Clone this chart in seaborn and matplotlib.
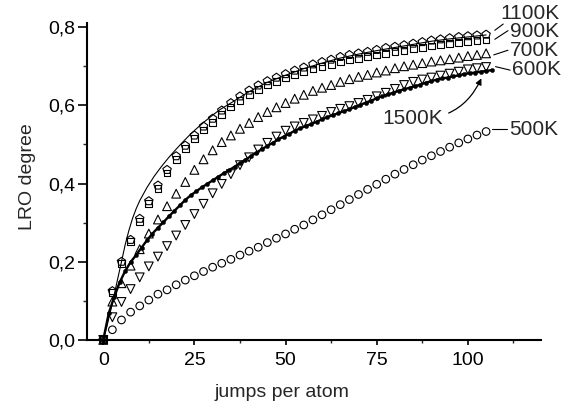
import numpy as np
import pandas as pd
import matplotlib
matplotlib.use("Agg")
import matplotlib.pyplot as plt
import seaborn as sns

# ---- data ----
x_sym = [i * 2.5 for i in range(43)]  # 0 ... 105

y_1100K = [0, 0.125, 0.20, 0.256, 0.31, 0.355, 0.395, 0.435, 0.47, 0.497, 0.523,
           0.546, 0.566, 0.587, 0.606, 0.623, 0.638, 0.651, 0.662, 0.671, 0.68,
           0.689, 0.697, 0.705, 0.711, 0.717, 0.724, 0.729, 0.733, 0.737, 0.742,
           0.747, 0.75, 0.754, 0.758, 0.762, 0.766, 0.769, 0.772, 0.775, 0.777,
           0.779, 0.781]
y_900K = [0, 0.122, 0.196, 0.251, 0.303, 0.348, 0.388, 0.427, 0.462, 0.489, 0.515,
          0.537, 0.557, 0.577, 0.596, 0.613, 0.628, 0.641, 0.652, 0.661, 0.67,
          0.679, 0.686, 0.693, 0.699, 0.705, 0.711, 0.716, 0.72, 0.724, 0.729,
          0.733, 0.737, 0.741, 0.745, 0.748, 0.752, 0.755, 0.758, 0.761, 0.763,
          0.765, 0.767]
y_700K = [0, 0.098, 0.145, 0.19, 0.232, 0.272, 0.308, 0.342, 0.374, 0.404, 0.435,
          0.462, 0.485, 0.506, 0.523, 0.54, 0.555, 0.57, 0.583, 0.595, 0.606,
          0.617, 0.627, 0.637, 0.645, 0.652, 0.66, 0.667, 0.673, 0.678, 0.684,
          0.689, 0.695, 0.7, 0.704, 0.708, 0.712, 0.715, 0.718, 0.722, 0.726,
          0.729, 0.733]
y_600K = [0, 0.058, 0.097, 0.13, 0.16, 0.188, 0.213, 0.24, 0.267, 0.294, 0.322,
          0.348, 0.375, 0.399, 0.424, 0.447, 0.467, 0.487, 0.504, 0.52, 0.535,
          0.546, 0.555, 0.564, 0.573, 0.583, 0.591, 0.598, 0.606, 0.614, 0.623,
          0.632, 0.642, 0.652, 0.66, 0.666, 0.671, 0.676, 0.681, 0.686, 0.692,
          0.695, 0.698]
y_500K = [0, 0.026, 0.051, 0.071, 0.087, 0.102, 0.117, 0.128, 0.141, 0.153, 0.164,
          0.175, 0.186, 0.196, 0.206, 0.217, 0.227, 0.237, 0.249, 0.26, 0.271,
          0.283, 0.294, 0.307, 0.32, 0.333, 0.346, 0.359, 0.372, 0.385, 0.398,
          0.411, 0.424, 0.436, 0.448, 0.46, 0.471, 0.482, 0.493, 0.504, 0.514,
          0.524, 0.533]

x_1500K = [i * 1.5 for i in range(72)]  # 0 ... 106.5
y_1500K = [0, 0.068, 0.11, 0.147, 0.176, 0.199, 0.217, 0.236, 0.255, 0.272,
           0.287, 0.301, 0.316, 0.33, 0.344, 0.358, 0.37, 0.38, 0.39, 0.399,
           0.408, 0.417, 0.426, 0.434, 0.443, 0.452, 0.461, 0.47, 0.479, 0.488,
           0.496, 0.504, 0.513, 0.52, 0.527, 0.535, 0.541, 0.547, 0.552, 0.558,
           0.564, 0.57, 0.575, 0.58, 0.585, 0.59, 0.596, 0.601, 0.607, 0.612,
           0.618, 0.623, 0.628, 0.632, 0.637, 0.641, 0.645, 0.649, 0.653, 0.658,
           0.662, 0.666, 0.669, 0.671, 0.674, 0.677, 0.68, 0.682, 0.684, 0.686,
           0.688, 0.69]

x_curve = [0, 1, 2, 3, 4, 5, 6, 7, 8, 9, 10, 12, 14, 16, 18, 20, 22, 24, 26, 28,
           30, 32, 35, 40, 45, 50, 55, 60, 65, 70, 75, 80, 85, 90, 95, 100, 105]
y_curve = [0, 0.035, 0.074, 0.115, 0.158, 0.2, 0.243, 0.279, 0.31, 0.335, 0.356,
           0.39, 0.419, 0.444, 0.467, 0.488, 0.508, 0.527, 0.544, 0.56, 0.575,
           0.589, 0.606, 0.635, 0.659, 0.677, 0.694, 0.708, 0.721, 0.731, 0.74,
           0.748, 0.756, 0.764, 0.77, 0.775, 0.78]

x_ticks = [0, 25, 50, 75, 100]
x_tick_labels = ["0", "25", "50", "75", "100"]
y_ticks = [0.0, 0.2, 0.4, 0.6, 0.8]
y_tick_labels = ["0,0", "0,2", "0,4", "0,6", "0,8"]

# ---- style ----
sns.set_style("ticks")
plt.rcParams['font.family'] = ['Liberation Sans', 'DejaVu Sans']

fig = plt.figure(figsize=(5.79, 4.12), dpi=100)
ax = fig.add_axes([0.150, 0.175, 0.784, 0.770])

sym_df = pd.DataFrame({"x": x_sym, "1100K": y_1100K, "900K": y_900K,
                       "700K": y_700K, "600K": y_600K, "500K": y_500K})

sns.lineplot(x=x_curve, y=y_curve, ax=ax, color="black", lw=0.8)

styles = [("500K", "o", 30), ("600K", "v", 40), ("700K", "^", 40),
          ("900K", "s", 24), ("1100K", "p", 40)]
for name, mk, s in styles:
    sns.scatterplot(data=sym_df, x="x", y=name, ax=ax, marker=mk, s=s,
                    facecolor="none", edgecolor="black", linewidth=0.8,
                    clip_on=False, zorder=3)

sns.lineplot(x=x_1500K, y=y_1500K, ax=ax, color="black", lw=1.7, zorder=4)
sns.scatterplot(x=x_1500K, y=y_1500K, ax=ax, marker="o", s=9, color="black",
                edgecolor="black", linewidth=0.3, zorder=4, clip_on=False)

# ---- axes ----
ax.set_xlim(-4.5, 120)
ax.set_ylim(0, 0.8115)
ax.set_xticks(x_ticks)
ax.set_xticklabels(x_tick_labels)
ax.set_yticks(y_ticks)
ax.set_yticklabels(y_tick_labels)
ax.set_xticks([12.5, 37.5, 62.5, 87.5, 112.5], minor=True)
ax.set_yticks([0.1, 0.3, 0.5, 0.7], minor=True)
ax.tick_params(which="major", direction="out", width=1.2,
               labelsize=14, colors="black")
ax.tick_params(axis="y", which="major", length=6.5, pad=2)
ax.tick_params(axis="y", which="minor", length=3, width=1.0)
ax.tick_params(axis="x", which="major", length=3.5, pad=5)
ax.tick_params(axis="x", which="minor", length=2.5, width=1.0)
for side in ["top", "right"]:
    ax.spines[side].set_visible(False)
for side in ["left", "bottom"]:
    ax.spines[side].set_linewidth(1.5)
    ax.spines[side].set_color("black")
ax.set_xlabel("jumps per atom", fontsize=14)
ax.set_ylabel("LRO degree", fontsize=14)
ax.xaxis.set_label_coords(0.43, -0.138)
ax.yaxis.set_label_coords(-0.112, 0.514)

# ---- series labels ----
fs = 15
ax.text(108.8, 0.835, "1100K", fontsize=fs, ha="left", va="center")
ax.plot([107.4, 109.7], [0.792, 0.808], color="black", lw=0.8, clip_on=False)
ax.text(111.5, 0.789, "900K", fontsize=fs, ha="left", va="center")
ax.plot([107.4, 111.0], [0.769, 0.791], color="black", lw=0.8, clip_on=False)
ax.text(111.5, 0.741, "700K", fontsize=fs, ha="left", va="center")
ax.plot([107.1, 111.0], [0.729, 0.741], color="black", lw=0.8, clip_on=False)
ax.text(112.0, 0.692, "600K", fontsize=fs, ha="left", va="center")
ax.plot([107.6, 111.6], [0.699, 0.690], color="black", lw=0.8, clip_on=False)
ax.text(111.2, 0.539, "500K", fontsize=fs, ha="left", va="center")
ax.plot([106.5, 110.8], [0.539, 0.539], color="black", lw=0.8, clip_on=False)
ax.annotate("1500K", xy=(103.7, 0.669), xytext=(84.8, 0.567), fontsize=fs,
            ha="center", va="center",
            arrowprops=dict(arrowstyle="-|>", connectionstyle="arc3,rad=0.35",
                            color="black", lw=0.9, mutation_scale=9,
                            shrinkA=2, shrinkB=0))

fig.savefig("out.png", dpi=100)
